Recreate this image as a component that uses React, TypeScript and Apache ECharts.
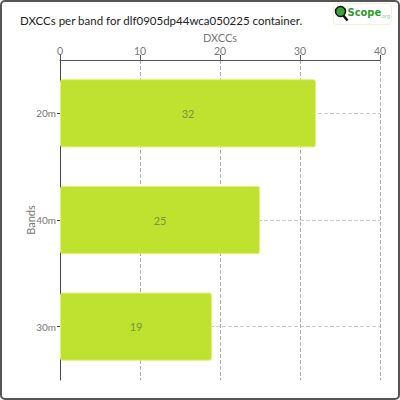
import React, { useEffect, useRef } from 'react';
import * as echarts from 'echarts';

const bands = ['20m', '40m', '30m'];
const dxccs = [32, 25, 19];
const titleText = 'DXCCs per band for dlf0905dp44wca050225 container.';

const FONT = 'Lato, "Noto Sans", sans-serif';

const App: React.FC = () => {
  const chartRef = useRef<HTMLDivElement>(null);

  useEffect(() => {
    document.body.style.margin = '0';
    if (!chartRef.current) return;
    const chart = echarts.init(chartRef.current, undefined, { renderer: 'svg' });

    const options = {
      animation: false,
      textStyle: { fontFamily: FONT },
      title: {
        text: titleText,
        left: 15,
        top: 9,
        textStyle: { fontSize: 11.5, fontWeight: 'normal', color: '#222', fontFamily: FONT },
      },
      grid: { left: 60, right: 20, top: 60, bottom: 20 },
      xAxis: {
        type: 'value',
        position: 'top',
        min: 0,
        max: 40,
        interval: 10,
        name: 'DXCCs',
        nameLocation: 'middle',
        nameGap: 17,
        nameMoveOverlap: false,
        nameTextStyle: { color: '#777', fontSize: 11 },
        axisLine: { show: true, lineStyle: { color: '#555' } },
        axisTick: { show: true, length: 5, lineStyle: { color: '#555' } },
        axisLabel: { color: '#777', fontSize: 10.5, margin: 4 },
        splitLine: { show: true, lineStyle: { type: 'dashed', color: '#aaa' } },
      },
      yAxis: {
        type: 'category',
        inverse: true,
        data: bands,
        name: 'Bands',
        nameLocation: 'middle',
        nameGap: 24,
        nameMoveOverlap: false,
        nameTextStyle: { color: '#777', fontSize: 11 },
        axisLine: { show: true, lineStyle: { color: '#444' } },
        axisTick: { show: true, alignWithLabel: true, length: 3, lineStyle: { color: '#444' } },
        axisLabel: { color: '#777', fontSize: 10, margin: 4 },
        splitLine: { show: true, alignWithLabel: true, lineStyle: { type: 'dashed', color: '#ccc' } },
      },
      series: [
        {
          type: 'bar',
          data: dxccs,
          barCategoryGap: '36%',
          itemStyle: { color: '#bee22f', borderColor: '#e4f27a', borderWidth: 1, borderRadius: 2 },
          label: { show: true, position: 'inside', color: '#7a9440', fontSize: 11 },
        },
      ],
      graphic: [
        {
          type: 'rect',
          shape: { x: 1, y: 1, width: 398, height: 398, r: 4 },
          style: { fill: 'none', stroke: '#555', lineWidth: 2 },
          silent: true,
        },
        {
          type: 'group',
          left: 333,
          top: 3,
          children: [
            {
              type: 'rect',
              shape: { x: 0, y: 0, width: 58, height: 21, r: 3 },
              style: { fill: '#fff', stroke: '#eef3d8', lineWidth: 1 },
            },
            {
              type: 'line',
              shape: { x1: 9, y1: 11, x2: 14, y2: 17 },
              style: { stroke: '#111', lineWidth: 2.5 },
            },
            {
              type: 'circle',
              shape: { cx: 7, cy: 8, r: 5 },
              style: { fill: '#3aa03a', stroke: '#111', lineWidth: 1.5 },
            },
            {
              type: 'text',
              x: 14,
              y: 3,
              style: { text: 'Scope', fill: '#2e9a2e', font: 'bold 11px "DejaVu Sans Condensed", "Noto Sans", sans-serif' },
            },
            {
              type: 'text',
              x: 47,
              y: 10,
              style: { text: '.org', fill: '#8cc88c', font: '5px "Noto Sans", sans-serif' },
            },
          ],
        },
      ],
    };
    chart.setOption(options);

    return () => {
      chart.dispose();
    };
  }, []);

  return <div ref={chartRef} style={{ width: '400px', height: '400px' }} />;
};

export default App;
